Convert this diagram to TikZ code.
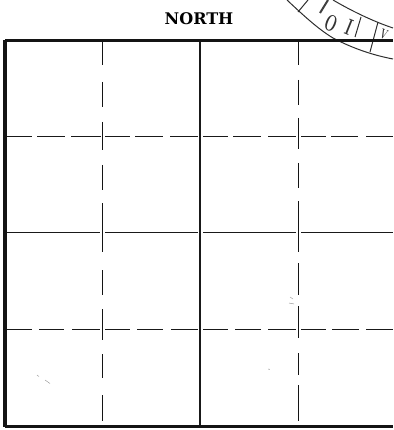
\documentclass[tikz,border=0pt]{standalone}
\usepackage{fontspec}
\newfontfamily\slabfont{DejaVu Serif}
\tikzset{
  frameline/.style={line width=3pt,black!92},
  sideline/.style={line width=3.8pt,black!92},
  centreline/.style={line width=1.3pt,black!90},
  gridline/.style={line width=1.9pt,black!92},
  hairline/.style={line width=0.85pt,black!90},
  stampline/.style={line width=1pt,black!82},
  stampletter/.style={font=\fontsize{23}{23}\bfseries,rotate=-22,inner sep=0pt,black!80,xscale=0.6},
  speck/.style={line width=0.4pt,black!45}
}
\begin{document}
\begin{tikzpicture}[x=1pt,y=-1pt]
\useasboundingbox (0,0) rectangle (393,430);
\begin{scope}
\clip (0,0) rectangle (393,430);
% stamp
\draw[stampline] (287,0) .. controls (303,15) and (318,29) .. (333,38) .. controls (352,48) and (372,55) .. (393,59);
\draw[stampline] (333,0) .. controls (350,10) and (372,21) .. (393,28);
\draw[stampline] (298,12) -- (308,0);
\draw[stampline] (370,52) -- (378,22);
\draw[line width=2pt,black!75] (320,13) -- (328,0);
\node[stampletter] (s2) at (331,23) {O};
\node[stampletter] (s3) at (349,27) {I};
\node[stampletter,font=\fontsize{14}{14}\bfseries] (s4) at (384,34) {V};
\draw[stampline] (361,17) -- (355,37);
% frame
\draw[centreline] (200,41) -- (200,426);
\draw[frameline] (5,41) -- (393,41);
\draw[frameline] (5,426) -- (393,426);
\draw[sideline] (5,40) -- (5,427);
% solid centre line
\foreach \a/\b in {7/100,105/198,203/296,301/393}
  \draw[hairline] (\a,232) -- (\b,232);
% dashed horizontals
\foreach \a/\b in {7/32,37/65,71/101,105/130,135/163,170/198,203/228,233/261,268/296,301/326,331/358,366/393}
  \draw[hairline] (\a,136) -- (\b,136);
\foreach \a/\b in {7/32,39/64,72/100,105/130,137/163,171/198,203/228,235/261,268/296,301/326,332/359,366/393}
  \draw[hairline] (\a,329) -- (\b,329);
% dashed verticals
\foreach \a/\b in {42/65,82/107,122/150,165/190,203/252,270/295,309/340,354/378,395/421}
  \draw[gridline] (102.5,\a) -- (102.5,\b);
\foreach \a/\b in {42/65,80/105,118/149,163/188,201/252,263/295,306/338,353/375,385/421}
  \draw[gridline] (298.5,\a) -- (298.5,\b);
% specks
\draw[speck] (37,375) -- (39,376.5);
\draw[speck] (45,380) -- (50,383.5);
\draw[speck,line width=0.8pt] (268.5,369) -- (269.5,369.5);
\draw[speck] (290,297) -- (293,299);
\draw[speck] (289,303) -- (294,304);
\end{scope}
\node[font=\slabfont\fontsize{16}{16}\selectfont\bfseries,inner sep=0pt] (north) at (199,18.5) {NORTH};
\end{tikzpicture}
\end{document}
